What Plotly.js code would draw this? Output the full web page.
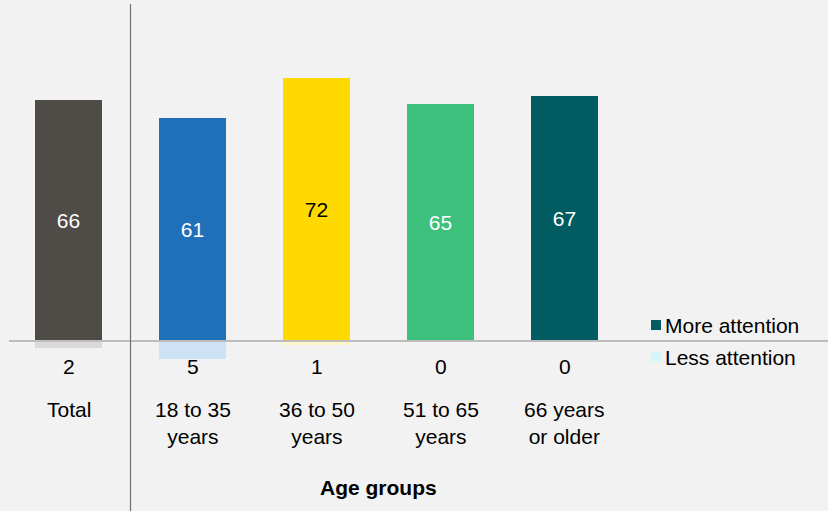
<!DOCTYPE html>
<html>
<head>
<meta charset="utf-8">
<script src="https://cdn.plot.ly/plotly-3.0.1.min.js"></script>
<style>
html,body{margin:0;padding:0;background:#f2f2f2;}
#chart{width:828px;height:511px;}
</style>
</head>
<body>
<div id="chart"></div>
<script>
// ---- data ----
const categories = ['Total', '18 to 35<br>years', '36 to 50<br>years', '51 to 65<br>years', '66 years<br>or older'];
const moreAttention = [66, 61, 72, 65, 67];
const lessAttention = [2, 5, 1, 0, 0];
const seriesNames = ['More attention', 'Less attention'];
const groupTitle = 'Age groups';

// ---- styles ----
const moreColors = ['#4f4b47', '#1f70b8', '#ffd900', '#3cc07c', '#005c60'];
const lessColors = ['#dadada', '#cde3f5', '#fff6c8', '#d4f3e3', '#d5f7f9'];
const moreTextColors = ['#ffffff', '#ffffff', '#000000', '#ffffff', '#ffffff'];
const legendColors = ['#005c60', '#d5f7f9'];
const FONT = '"Liberation Sans", Arial, sans-serif';
const FS = 21;

const W = 828, H = 511;
const xs = categories.map((c, i) => i);

const traces = [
  {
    type: 'bar', name: seriesNames[0], x: xs, y: moreAttention,
    width: 0.54,
    marker: {color: moreColors, line: {width: 0}},
    text: moreAttention.map(String), textposition: 'inside', insidetextanchor: 'middle',
    textfont: {family: FONT, size: FS, color: moreTextColors},
    constraintext: 'none', hoverinfo: 'skip', showlegend: false
  },
  {
    type: 'bar', name: seriesNames[1], x: xs, y: lessAttention.map(v => -v),
    width: 0.54,
    marker: {color: lessColors, line: {width: 0}},
    hoverinfo: 'skip', showlegend: false
  }
];

const annotations = [];
// less-attention value labels
lessAttention.forEach((v, i) => annotations.push({
  x: i, y: -7.1, xref: 'x', yref: 'y', text: String(v), showarrow: false,
  xanchor: 'center', yanchor: 'middle', font: {family: FONT, size: FS, color: '#000'}
}));
// category labels
categories.forEach((c, i) => annotations.push({
  x: i, y: -15.2, xref: 'x', yref: 'y', text: c, showarrow: false,
  xanchor: 'center', yanchor: 'top', font: {family: FONT, size: FS, color: '#000'}
}));
// group title
annotations.push({
  x: (1 + categories.length - 1) / 2, y: -40.0, xref: 'x', yref: 'y',
  text: '<b>' + groupTitle + '</b>', showarrow: false,
  xanchor: 'center', yanchor: 'middle', font: {family: FONT, size: FS, color: '#000'}
});
// custom legend
const legendY = [325, 357];
const shapes = [
  // baseline
  {type: 'line', xref: 'paper', yref: 'y', x0: 9 / W, x1: 1, y0: 0, y1: 0,
   line: {color: '#bdbdbd', width: 2}},
  // separator between Total and age groups
  {type: 'line', xref: 'x', yref: 'paper', x0: 0.5, x1: 0.5, y0: 0, y1: 1,
   line: {color: '#707070', width: 1.2}}
];
seriesNames.forEach((n, k) => {
  const py = legendY[k];
  shapes.push({type: 'rect', xref: 'paper', yref: 'paper',
    x0: 651 / W, x1: 661 / W, y0: (H - (py + 5)) / (H - 4), y1: (H - (py - 5)) / (H - 4),
    fillcolor: legendColors[k], line: {width: 0}});
  annotations.push({xref: 'paper', yref: 'paper', x: 663 / W, y: (H - py) / (H - 4),
    text: n, showarrow: false, xanchor: 'left', yanchor: 'middle',
    font: {family: FONT, size: FS, color: '#000'}});
});

const pxPerUnit = 3.65;
const layout = {
  width: W, height: H,
  margin: {l: 0, r: 0, t: 4, b: 0, pad: 0},
  paper_bgcolor: '#f2f2f2', plot_bgcolor: '#f2f2f2',
  barmode: 'relative', bargap: 0,
  font: {family: FONT, size: FS, color: '#000'},
  xaxis: {range: [-68.5 / 124, (W - 68.5) / 124], visible: false, fixedrange: true},
  yaxis: {range: [-(H - 341) / pxPerUnit, (341 - 4) / pxPerUnit], visible: false, fixedrange: true, zeroline: false},
  shapes: shapes,
  annotations: annotations,
  showlegend: false
};

Plotly.newPlot('chart', traces, layout, {displayModeBar: false, staticPlot: true});
</script>
</body>
</html>
